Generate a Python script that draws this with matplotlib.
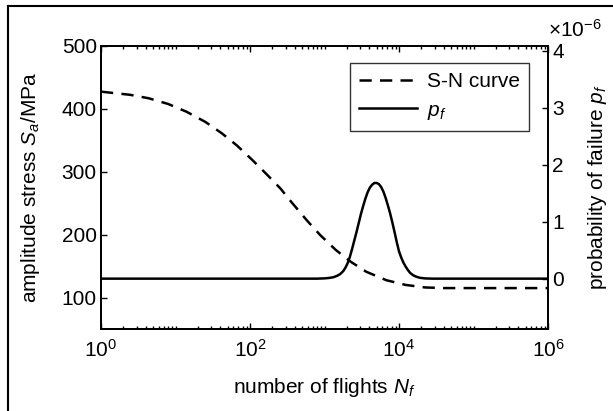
import matplotlib
matplotlib.use("Agg")
import matplotlib.pyplot as plt
import numpy as np
from matplotlib.lines import Line2D
from matplotlib.ticker import FixedLocator, FuncFormatter, NullFormatter

plt.rcParams["font.family"] = ["Liberation Sans", "DejaVu Sans"]
plt.rcParams["mathtext.fontset"] = "custom"
plt.rcParams["mathtext.rm"] = "Liberation Sans"
plt.rcParams["mathtext.it"] = "Liberation Sans:italic"

# S-N curve (log10 of flights, amplitude stress in MPa)
sn_log_n = [0.0, 0.39, 0.64, 0.90, 1.15, 1.40, 1.62, 1.82, 2.03, 2.23, 2.41,
            2.56, 2.76, 2.94, 3.15, 3.35, 3.56, 3.83, 4.09, 4.35, 4.60, 5.0, 6.0]
sn_stress = [427, 422, 416.5, 407.5, 395, 379, 361, 342, 318.6, 295, 273,
             251, 223, 199.5, 175.7, 157, 141, 127.5, 120, 116, 115, 115, 115]

# probability of failure (log10 of flights, values in units of 1e-6)
pf_log_n = [0.0, 2.90, 3.00, 3.06, 3.12, 3.17, 3.21, 3.25, 3.28, 3.31, 3.34,
            3.37, 3.40, 3.43, 3.46, 3.49, 3.52, 3.55, 3.58, 3.61, 3.64, 3.67,
            3.70, 3.73, 3.76, 3.79, 3.82, 3.85, 3.88, 3.91, 3.94, 3.97, 4.00,
            4.03, 4.06, 4.09, 4.12, 4.15, 4.19, 4.23, 4.28, 4.35, 4.45, 6.0]
pf_e6 = [0.0, 0.0, 0.005, 0.012, 0.025, 0.05, 0.08, 0.13, 0.19, 0.27, 0.38,
         0.52, 0.67, 0.82, 0.98, 1.14, 1.28, 1.41, 1.52, 1.60, 1.65, 1.68,
         1.68, 1.66, 1.61, 1.53, 1.42, 1.29, 1.15, 0.99, 0.82, 0.64, 0.48,
         0.37, 0.28, 0.21, 0.15, 0.10, 0.06, 0.035, 0.015, 0.004, 0.0, 0.0]

x_major = [1e0, 1e2, 1e4, 1e6]
right_ticks_e6 = [0, 1, 2, 3, 4]
left_ticks = [100, 200, 300, 400, 500]

FS = 15

fig = plt.figure(figsize=(6.13, 4.11), dpi=100)
ax = fig.add_axes([101 / 613, 1 - 329 / 411, 447 / 613, 283.3 / 411])
ax2 = ax.twinx()

n_sn = 10 ** np.array(sn_log_n)
n_pf = 10 ** np.array(pf_log_n)
pf = np.array(pf_e6) * 1e-6

l_sn, = ax.plot(n_sn, sn_stress, color="black", lw=1.8,
                linestyle=(0, (4.9, 3.3)), label="S-N curve")
l_pf, = ax2.plot(n_pf, pf, color="black", lw=1.8, label="$p_f$",
                 solid_joinstyle="round")

ax.set_xscale("log")
ax.set_xlim(1, 1e6)
ax.set_ylim(50, 500)
ax2.set_ylim(-0.884e-6, 4.09e-6)

minor = [m * 10 ** d for d in range(6) for m in range(1, 10)
         if not (m == 1 and d % 2 == 0)]
ax.xaxis.set_major_locator(FixedLocator(x_major))
ax.xaxis.set_minor_locator(FixedLocator(minor))
ax.xaxis.set_minor_formatter(NullFormatter())
ax.xaxis.set_major_formatter(FuncFormatter(
    lambda v, _: "$\\mathregular{10^{%d}}$" % int(round(np.log10(v)))))
ax.set_yticks(left_ticks)
ax2.set_yticks(np.array(right_ticks_e6) * 1e-6)
ax2.yaxis.set_major_formatter(FuncFormatter(lambda v, _: f"{v / 1e-6:g}"))

ax.tick_params(which="both", direction="in", top=True, right=False,
               labelsize=FS, width=1.0)
ax.tick_params(axis="x", pad=7)
ax.tick_params(axis="y", pad=3)
ax.tick_params(which="major", length=4)
ax.tick_params(which="minor", length=2.2)
ax2.tick_params(which="both", direction="in", labelsize=FS, width=1.0,
                length=4, pad=3)

for a in (ax, ax2):
    for s in a.spines.values():
        s.set_linewidth(1.3)

ax.set_xlabel("number of flights $N_f$", fontsize=FS, labelpad=11)
ax.set_ylabel("amplitude stress $S_a$/MPa", fontsize=FS, labelpad=14)
ax2.set_ylabel("probability of failure $p_f$", fontsize=FS, rotation=90,
               labelpad=16)

ax2.text(1.0, 1.017, "$\\times\\mathregular{10^{-6}}$", transform=ax2.transAxes,
         fontsize=FS, ha="left", va="bottom")

leg = ax2.legend([l_sn, l_pf], ["S-N curve", "$p_f$"], loc="upper right",
                 bbox_to_anchor=(0.9575, 0.939), borderaxespad=0,
                 fontsize=FS, frameon=True, fancybox=False,
                 handlelength=2.8, handletextpad=0.45, borderpad=0.45,
                 labelspacing=0.45)
leg.get_frame().set_edgecolor("black")
leg.get_frame().set_linewidth(1.0)

# outer frame around the figure
fig.add_artist(Line2D([8 / 613, 8 / 613], [0, 1 - 6 / 411], color="black",
                      lw=1.5, transform=fig.transFigure))
fig.add_artist(Line2D([8 / 613, 1], [1 - 6 / 411, 1 - 6 / 411], color="black",
                      lw=1.5, transform=fig.transFigure))

fig.savefig("out.png", dpi=100)
